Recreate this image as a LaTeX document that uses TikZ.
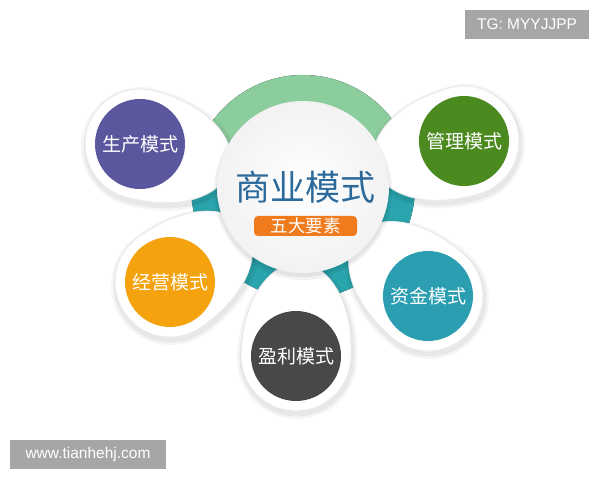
\documentclass[tikz,border=0pt]{standalone}
\usepackage{fontspec}
\setmainfont{Liberation Sans}
\newfontfamily\cjk{Noto Sans CJK SC}
\definecolor{ringgreen}{HTML}{8CCD9E}
\definecolor{ringteal}{HTML}{2AA5AD}
\definecolor{cpurple}{HTML}{5B579E}
\definecolor{cgreen}{HTML}{4B8A1E}
\definecolor{corange}{HTML}{F5A20F}
\definecolor{cteal}{HTML}{2B9FB1}
\definecolor{cdark}{HTML}{48484A}
\definecolor{titleblue}{HTML}{2D6A9C}
\definecolor{tagorange}{HTML}{EF7B1D}
\definecolor{labelgray}{HTML}{A6A6A6}
\pgfdeclareverticalshading{ringshade}{100bp}{color(0bp)=(ringteal); color(53bp)=(ringteal); color(61bp)=(ringgreen); color(100bp)=(ringgreen)}
\tikzset{
  droppath/.style={insert path={(0,55) arc[start angle=90,end angle=270,radius=55] .. controls (55,-55) and (#1-5,-32) .. (#1,0) .. controls (#1-5,32) and (55,55) .. (0,55) -- cycle}},
  satellite/.style={circle, minimum size=90, inner sep=0, fill=#1, text=white, font=\cjk\fontsize{19}{19}\selectfont},
  wmark/.style={fill=labelgray, text=white, minimum height=29, inner sep=0, font=\fontsize{15.5}{16}\selectfont}
}
\newcommand\teardrop[3]{%
  \begin{scope}[shift={(#1+1,#2-3)},rotate=#3]
    \draw[black,opacity=.04,line width=10,droppath=95];
    \draw[black,opacity=.05,line width=5,droppath=95];
  \end{scope}
  \begin{scope}[shift={(#1,#2)},rotate=#3]
    \fill[white,draw=black!9,line width=.8,droppath=95];
  \end{scope}}
\begin{document}
\begin{tikzpicture}[x=1pt,y=1pt]
\useasboundingbox (0,0) rectangle (600,480);
\fill[white] (0,0) rectangle (600,480);
% ring
\fill[shading=ringshade] (303,293) circle (112);
% teardrops
\teardrop{140}{336}{-14.8}
\teardrop{464}{339}{195.9}
\teardrop{170}{198}{35.5}
\teardrop{428}{184}{138.9}
\teardrop{296}{124}{87.6}
% main circle
\fill[black,opacity=.05] (303,289) circle (89);
\fill[black,opacity=.06] (303,290) circle (87);
\node[circle, minimum size=172, inner sep=0, shading=radial, inner color=white, outer color=black!5] (M) at (303,293) {};
\node[font=\cjk\fontsize{35}{35}\selectfont, text=titleblue] (title) at (305,293) {商业模式};
\node[fill=tagorange, rounded corners=4, minimum width=103, minimum height=20, inner sep=0, text=white, font=\cjk\fontsize{17.5}{17.5}\selectfont] (tag) at (305.5,254) {五大要素};
% satellites
\node[satellite=cpurple] (P) at (140,336) {生产模式};
\node[satellite=cgreen] (G) at (464,339) {管理模式};
\node[satellite=corange] (O) at (170,198) {经营模式};
\node[satellite=cteal] (T) at (428,184) {资金模式};
\node[satellite=cdark] (D) at (296,124) {盈利模式};
% watermarks
\node[wmark, minimum width=124] (tg) at (527,455.5) {TG: MYYJJPP};
\node[wmark, minimum width=156] (www) at (88,25.5) {www.tianhehj.com};
\end{tikzpicture}
\end{document}
